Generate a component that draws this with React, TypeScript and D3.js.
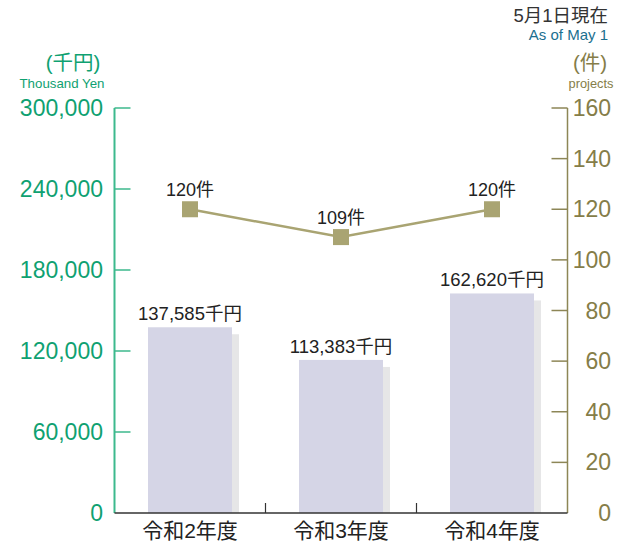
import * as d3 from 'd3';

// Data
const categories = ['令和2年度', '令和3年度', '令和4年度'];
const amounts = [137585, 113383, 162620]; // 千円
const projects = [120, 109, 120]; // 件
const leftTicks = [0, 60000, 120000, 180000, 240000, 300000];
const rightTicks = [0, 20, 40, 60, 80, 100, 120, 140, 160];

const W = 617;
const H = 544;
const plot = { left: 114.5, right: 567.5, top: 108, bottom: 513 };

const FONT = "'Liberation Sans', 'Noto Sans CJK JP', sans-serif";
const GREEN = '#0fa171';
const GREEN_AXIS = '#3cb98d';
const OLIVE = '#857d48';
const OLIVE_AXIS = '#8d8656';
const MARKER = '#a9a472';

export default function App() {
  const x = d3.scaleBand<string>().domain(categories).range([plot.left, plot.right]);
  const yLeft = d3.scaleLinear().domain([0, 300000]).range([plot.bottom, plot.top]);
  const yRight = d3.scaleLinear().domain([0, 160]).range([plot.bottom, plot.top]);

  const barW = 84;
  const shadow = 7;
  const fmt = d3.format(',');

  const line = d3
    .line<number>()
    .x((_, i) => x(categories[i])! + x.bandwidth() / 2)
    .y((d) => yRight(d));

  return (
    <svg
      width={W}
      height={H}
      style={{ position: 'absolute', left: 0, top: 0, display: 'block', background: '#fff' }}
      fontFamily={FONT}
    >
      {/* header */}
      <text x={608} y={22} textAnchor="end" fontSize={18.5} fill="#333">5月1日現在</text>
      <text x={608} y={40} textAnchor="end" fontSize={15} fill="#1b6f8f">As of May 1</text>

      {/* unit labels */}
      <text x={73} y={70} textAnchor="middle" fontSize={20.5} fill={GREEN}>(千円)</text>
      <text x={62} y={88} textAnchor="middle" fontSize={13.3} fill={GREEN}>Thousand Yen</text>
      <text x={590} y={70} textAnchor="middle" fontSize={20.5} fill={OLIVE}>(件)</text>
      <text x={591} y={88} textAnchor="middle" fontSize={12.8} fill={OLIVE}>projects</text>

      {/* bars with shadow */}
      {categories.map((c, i) => {
        const cx = x(c)! + x.bandwidth() / 2;
        const top = yLeft(amounts[i]);
        return (
          <g key={c}>
            <rect x={cx - barW / 2 + shadow} y={top + shadow} width={barW} height={plot.bottom - top - shadow} fill="#e6e6e7" />
            <rect x={cx - barW / 2} y={top} width={barW} height={plot.bottom - top} fill="#d5d5e6" />
            <text x={cx} y={top - 7} textAnchor="middle" fontSize={18.5} fill="#222">
              {fmt(amounts[i])}千円
            </text>
          </g>
        );
      })}

      {/* left axis */}
      <line x1={plot.left} x2={plot.left} y1={plot.top} y2={plot.bottom} stroke={GREEN_AXIS} strokeWidth={2} />
      {leftTicks.map((t) => (
        <g key={t}>
          {t > 0 && (
            <line x1={plot.left} x2={plot.left + 16} y1={yLeft(t)} y2={yLeft(t)} stroke={GREEN_AXIS} strokeWidth={1.5} />
          )}
          <text x={103} y={yLeft(t) + 8} textAnchor="end" fontSize={23} fill={GREEN}>
            {fmt(t)}
          </text>
        </g>
      ))}

      {/* right axis */}
      <line x1={plot.right} x2={plot.right} y1={plot.top} y2={plot.bottom} stroke={OLIVE_AXIS} strokeWidth={1.5} />
      {rightTicks.map((t) => (
        <g key={t}>
          {t > 0 && (
            <line x1={plot.right - 16} x2={plot.right} y1={yRight(t)} y2={yRight(t)} stroke={OLIVE_AXIS} strokeWidth={1.5} />
          )}
          <text x={611} y={yRight(t) + 8} textAnchor="end" fontSize={23} fill={OLIVE}>
            {t}
          </text>
        </g>
      ))}

      {/* baseline and category dividers */}
      <line x1={plot.left} x2={plot.right} y1={plot.bottom} y2={plot.bottom} stroke="#333" strokeWidth={1.5} />
      {categories.slice(1).map((c) => (
        <line key={c} x1={x(c)!} x2={x(c)!} y1={plot.bottom - 10} y2={plot.bottom} stroke="#333" strokeWidth={1.2} />
      ))}
      {categories.map((c) => (
        <text key={c} x={x(c)! + x.bandwidth() / 2} y={538} textAnchor="middle" fontSize={21} fill="#222">
          {c}
        </text>
      ))}

      {/* projects line */}
      <path d={line(projects) ?? ''} fill="none" stroke={MARKER} strokeWidth={2.5} />
      {projects.map((p, i) => {
        const cx = x(categories[i])! + x.bandwidth() / 2;
        const cy = yRight(p);
        return (
          <g key={i}>
            <rect x={cx - 8} y={cy - 8} width={16} height={16} fill={MARKER} />
            <text x={cx} y={cy - 13} textAnchor="middle" fontSize={18} fill="#222">
              {p}件
            </text>
          </g>
        );
      })}
    </svg>
  );
}
